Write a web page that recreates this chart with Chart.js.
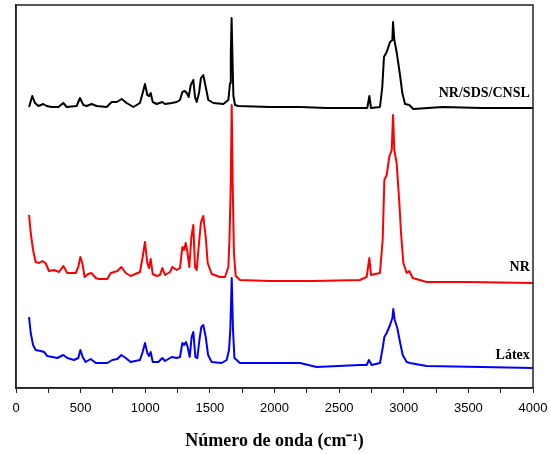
<!DOCTYPE html>
<html>
<head>
<meta charset="utf-8">
<script src="https://cdn.jsdelivr.net/npm/chart.js@4"></script>
<style>
  html, body { margin: 0; padding: 0; background: #fff; }
  #wrap { width: 551px; height: 454px; }
</style>
</head>
<body>
<div id="wrap"><canvas id="ramanChart" width="551" height="454"></canvas></div>
<script>
/* ============================================
   DATA
   ============================================ */

const blackX = [101, 126, 147, 173, 211, 237, 276, 328, 366, 392, 469, 495, 521, 547, 585, 624, 702, 740, 779, 818, 856, 908, 959, 980, 998, 1016, 1032, 1042, 1058, 1088, 1132, 1153, 1205, 1243, 1269, 1287, 1307, 1321, 1336, 1352, 1372, 1385, 1398, 1416, 1431, 1449, 1468, 1488, 1527, 1604, 1643, 1656, 1662, 1668, 1674, 1682, 1695, 1720, 1965, 2200, 2400, 2661, 2718, 2734, 2747, 2816, 2834, 2847, 2868, 2894, 2912, 2917, 2927, 2945, 2971, 2989, 3010, 3043, 3074, 3300, 3600, 4000];
const blackY = [281, 292, 285, 282, 284, 282, 281, 281, 285, 281, 282, 290, 283, 282, 284, 282, 281, 286, 286, 289, 285, 281, 285, 295, 304, 293, 292, 295, 286, 284, 286, 284, 285, 286, 288, 296, 297, 295, 291, 303, 308, 291, 286, 295, 310, 313, 301, 288, 285, 284, 288, 305, 335, 370, 335, 292, 283, 282, 281, 281, 280, 280, 280, 292, 280, 281, 301, 331, 336, 346, 348, 366, 348, 336, 313, 295, 284, 283, 279, 281, 280, 280];

const redX = [101, 114, 132, 152, 178, 204, 229, 255, 294, 333, 366, 397, 462, 482, 498, 513, 531, 557, 583, 617, 642, 706, 733, 784, 815, 849, 887, 959, 980, 998, 1016, 1029, 1042, 1058, 1088, 1114, 1132, 1153, 1192, 1210, 1243, 1269, 1287, 1300, 1313, 1326, 1341, 1357, 1372, 1385, 1398, 1416, 1431, 1449, 1468, 1483, 1514, 1578, 1617, 1643, 1652, 1661, 1669, 1677, 1686, 1700, 1733, 1965, 2300, 2661, 2713, 2734, 2747, 2816, 2837, 2850, 2868, 2888, 2907, 2917, 2927, 2945, 2966, 2979, 2997, 3023, 3043, 3069, 3177, 3500, 4000];
const redY = [173, 155, 138, 126, 125, 127, 125, 117, 118, 116, 122, 115, 115, 121, 131, 125, 111, 114, 115, 110, 109, 109, 115, 117, 121, 115, 112, 116, 131, 146, 125, 120, 129, 114, 112, 113, 120, 113, 116, 121, 118, 120, 141, 138, 145, 136, 121, 151, 163, 121, 118, 145, 166, 172, 151, 125, 114, 111, 111, 121, 150, 200, 283, 200, 135, 112, 108, 107, 107, 108, 111, 130, 113, 115, 148, 208, 213, 231, 238, 273, 238, 225, 185, 155, 125, 115, 117, 110, 106, 106, 105];

const blueX = [101, 114, 132, 152, 191, 217, 242, 281, 320, 366, 397, 449, 482, 498, 516, 539, 578, 617, 668, 706, 745, 784, 815, 849, 887, 959, 980, 998, 1016, 1029, 1042, 1058, 1101, 1132, 1153, 1205, 1243, 1269, 1287, 1302, 1315, 1328, 1344, 1359, 1372, 1388, 1403, 1419, 1434, 1449, 1468, 1486, 1514, 1591, 1630, 1648, 1658, 1669, 1679, 1690, 1733, 1965, 2197, 2326, 2661, 2713, 2731, 2752, 2816, 2837, 2850, 2868, 2894, 2912, 2919, 2930, 2950, 2971, 2992, 3023, 3048, 3177, 3600, 4000];
const blueY = [71, 55, 43, 38, 37, 36, 32, 31, 30, 33, 30, 28, 30, 38, 31, 26, 29, 25, 25, 25, 28, 29, 33, 30, 26, 28, 36, 45, 35, 32, 36, 26, 26, 30, 27, 31, 30, 31, 45, 43, 46, 41, 31, 51, 56, 31, 30, 48, 61, 63, 51, 33, 26, 25, 28, 38, 58, 110, 58, 30, 25, 25, 25, 21, 23, 23, 28, 23, 25, 40, 51, 55, 63, 70, 79, 68, 60, 46, 33, 26, 25, 22, 21, 20];

const seriesNames = ["NR/SDS/CNSL", "NR", "Látex"];
const seriesColors = ["#000000", "#ff0000", "#0000ff"];
const labelY = [295, 121, 33];

const xTicks = [0, 500, 1000, 1500, 2000, 2500, 3000, 3500, 4000];

/* ============================================
   RAMAN CHART
   ============================================ */

function toPoints(xs, ys) {
    return xs.map((x, i) => ({ x: x, y: ys[i] }));
}

const frameAndLabels = {
    id: "frameAndLabels",
    afterDraw(chart) {
        const { ctx, chartArea, scales } = chart;
        ctx.save();
        ctx.strokeStyle = "#222";
        ctx.lineWidth = 1.5;
        ctx.strokeRect(chartArea.left, chartArea.top,
            chartArea.right - chartArea.left, chartArea.bottom - chartArea.top);

        ctx.font = "bold 14px 'Liberation Serif', 'Times New Roman', serif";
        ctx.fillStyle = "#000";
        ctx.textAlign = "right";
        ctx.textBaseline = "middle";
        seriesNames.forEach((name, i) => {
            ctx.fillText(name, scales.x.getPixelForValue(3975), scales.y.getPixelForValue(labelY[i]));
        });
        ctx.restore();
    }
};

const ctx = document.getElementById("ramanChart");

new Chart(ctx, {
    type: "line",
    data: {
        datasets: [
            { label: seriesNames[0], data: toPoints(blackX, blackY), borderColor: seriesColors[0] },
            { label: seriesNames[1], data: toPoints(redX, redY), borderColor: seriesColors[1] },
            { label: seriesNames[2], data: toPoints(blueX, blueY), borderColor: seriesColors[2] }
        ]
    },
    options: {
        responsive: false,
        animation: false,
        elements: {
            point: { radius: 0 },
            line: { borderWidth: 2, tension: 0, borderJoinStyle: "round" }
        },
        layout: { padding: { left: 16, right: 18, top: 5, bottom: 0 } },
        plugins: {
            legend: { display: false },
            tooltip: { enabled: false }
        },
        scales: {
            x: {
                type: "linear",
                min: 0,
                max: 4000,
                afterFit(scale) {
                    scale.height = 66;
                    scale.paddingLeft = 0;
                    scale.paddingRight = 0;
                },
                ticks: {
                    stepSize: 250,
                    autoSkip: false,
                    maxRotation: 0,
                    color: "#000",
                    padding: 8,
                    font: { family: "'Liberation Sans', Arial, sans-serif", size: 13 },
                    callback: (v) => (xTicks.includes(v) ? String(v) : "")
                },
                grid: { drawOnChartArea: false, drawTicks: true, tickLength: 5, color: "#222", lineWidth: 1 },
                border: { color: "#222", width: 1.5 },
                title: {
                    display: true,
                    text: "Número de onda (cm⁻¹)",
                    color: "#000",
                    padding: { top: 8, bottom: 2 },
                    font: { family: "'Liberation Serif', 'Times New Roman', serif", size: 18, weight: "bold" }
                }
            },
            y: {
                min: 0,
                max: 383,
                afterFit(scale) { scale.width = 0; },
                ticks: { display: false },
                grid: { display: false },
                border: { display: true, color: "#222", width: 1.5 }
            }
        }
    },
    plugins: [frameAndLabels]
});
</script>
</body>
</html>
